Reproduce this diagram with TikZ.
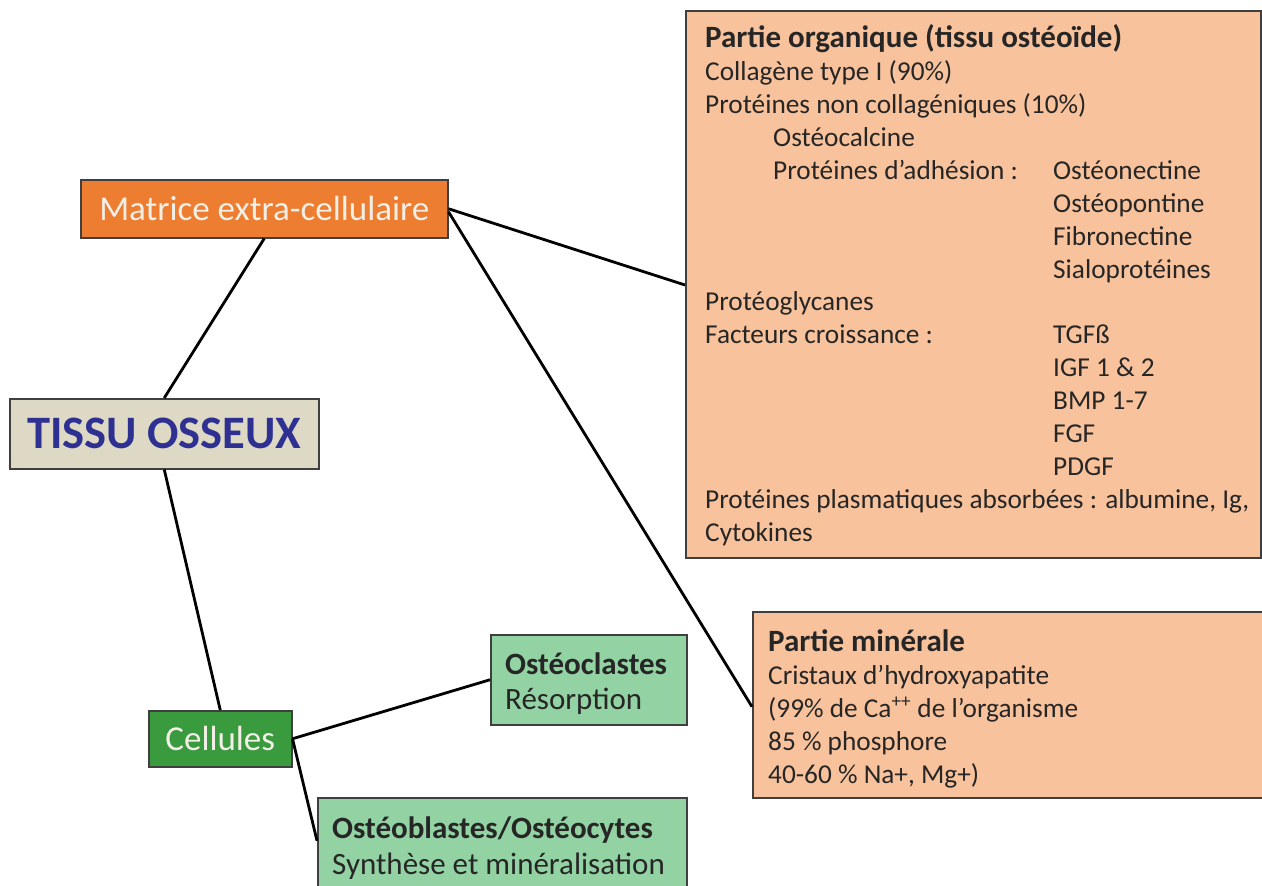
\documentclass[tikz,border=0pt]{standalone}
\usepackage{fontspec}
\setmainfont{Carlito}
\definecolor{boxline}{HTML}{3F3F3F}
\definecolor{matfill}{HTML}{ED7D31}
\definecolor{peach}{HTML}{F8C39C}
\definecolor{tan}{HTML}{DDD9C4}
\definecolor{tissublue}{HTML}{2E3192}
\definecolor{darkgreen}{HTML}{3A9A3E}
\definecolor{lightgreen}{HTML}{93D3A3}
\definecolor{lighttext}{HTML}{F2EFE6}
\definecolor{bodytext}{HTML}{262626}
\begin{document}
\begin{tikzpicture}[x=1pt,y=-1pt,
  box/.style={draw=boxline, line width=1.5pt, inner sep=0pt, anchor=north west},
  conn/.style={draw=black, line width=2.8pt},
  txt/.style={anchor=base west, inner sep=0pt, align=left, text=bodytext}]
\useasboundingbox (0,0) rectangle (1262,886);
\fill[white] (0,0) rectangle (1262,886);

% boxes
\node[box, fill=peach, minimum width=575pt, minimum height=547pt] (org) at (685,10) {};
\node[box, fill=peach, minimum width=515pt, minimum height=186pt] (min) at (752,611) {};
\node[box, fill=matfill, minimum width=367pt, minimum height=58pt, text=lighttext,
      font=\fontsize{35}{37}\selectfont] (mat) at (80,179) {Matrice extra-cellulaire};
\node[box, fill=tan, minimum width=309pt, minimum height=70pt, text=tissublue,
      font=\fontsize{46.5}{50}\selectfont\bfseries] (tissu) at (9,398) {TISSU OSSEUX};
\node[box, fill=darkgreen, minimum width=143pt, minimum height=56pt, text=lighttext,
      font=\fontsize{35}{38}\selectfont] (cell) at (148,710) {Cellules};
\node[box, fill=lightgreen, minimum width=196pt, minimum height=90pt] (ocl) at (490,634) {};
\node[box, fill=lightgreen, minimum width=369pt, minimum height=94pt] (obl) at (317,797) {};

% connectors
\draw[conn] (mat.south) -- (tissu.north);
\draw[conn] (tissu.south) -- (cell.north);
\draw[conn] (mat.east) -- ([yshift=-275pt]org.north west);
\draw[conn] ([yshift=-3pt]mat.east) -- ([yshift=-2pt]min.west);
\draw[conn] (cell.east) -- (ocl.west);
\draw[conn] (cell.east) -- ([yshift=4pt]obl.west);

% texts (anchor = baseline of the last line)
\node[txt, font=\fontsize{27.3}{32.87}\selectfont] (orgtxt) at (705,541) {{\fontsize{31}{32.87}\selectfont\bfseries Partie organique (tissu ostéoïde)}\\
Collagène type I (90\%)\\
Protéines non collagéniques (10\%)\\
\hspace*{68pt}Ostéocalcine\\
\hspace*{68pt}\makebox[280pt][l]{Protéines d’adhésion :}Ostéonectine\\
\hspace*{348pt}Ostéopontine\\
\hspace*{348pt}Fibronectine\\
\hspace*{348pt}Sialoprotéines\\
Protéoglycanes\\
\makebox[348pt][l]{Facteurs croissance :}TGFß\\
\hspace*{348pt}IGF 1 \& 2\\
\hspace*{348pt}BMP 1-7\\
\hspace*{348pt}FGF\\
\hspace*{348pt}PDGF\\
Protéines plasmatiques absorbées : albumine, Ig,\\
Cytokines};

\node[txt, font=\fontsize{27.3}{33}\selectfont] (mintxt) at (768,783) {{\fontsize{31}{33}\selectfont\bfseries Partie minérale}\\
Cristaux d’hydroxyapatite\\
(99\% de Ca\textsuperscript{++} de l’organisme\\
85 \% phosphore\\
40-60 \% Na+, Mg+)};

\node[txt, font=\fontsize{31}{35}\selectfont] (ocltxt) at (505,709) {\textbf{Ostéoclastes}\\Résorption};
\node[txt, font=\fontsize{31}{36}\selectfont] (obltxt) at (332,874) {\textbf{Ostéoblastes/Ostéocytes}\\Synthèse et minéralisation};
\end{tikzpicture}
\end{document}
